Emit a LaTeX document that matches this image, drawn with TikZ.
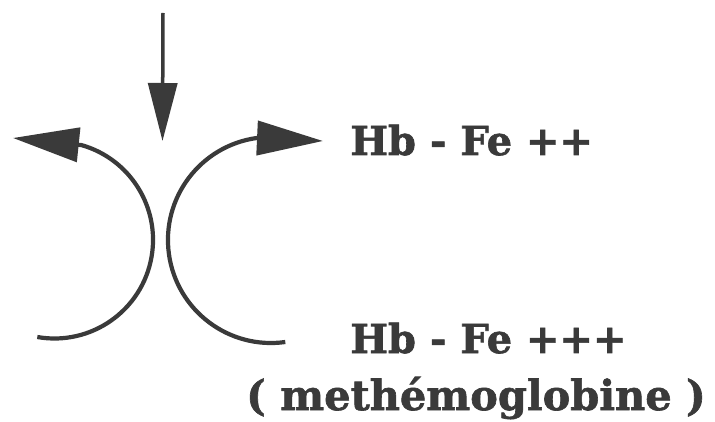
\documentclass[tikz,border=0pt]{standalone}
\usepackage{fontspec}
\setmainfont{DejaVu Serif}[BoldFeatures={FakeBold=1.5}]
\usetikzlibrary{arrows.meta}
\definecolor{inkc}{HTML}{3A3A3A}
\begin{document}
\begin{tikzpicture}[x=1pt,y=-1pt,
  ink/.style={draw=inkc, line width=4.2pt},
  lbl/.style={inner sep=0pt, anchor=base west, text=inkc, font=\fontsize{40}{40}\selectfont\bfseries},
  hh/.style={-{Triangle[length=66pt,width=34pt]}},
  vh/.style={-{Triangle[length=58pt,width=29pt]}}]
\useasboundingbox (0,0) rectangle (715,422);
% arrow from above
\coordinate (vtop) at (163,13);
\coordinate (vtip) at (162.5,141);
\draw[ink, line width=3.5pt, vh] (vtop) -- (vtip);
% left arc
\coordinate (lbot) at (37.3,337);
\coordinate (ltip) at (13,138);
\draw[ink, hh] (lbot) arc[start angle=100, end angle=-74, radius=98.6] -- (ltip);
% right arc
\coordinate (rbot) at (285.3,342);
\coordinate (rtip) at (323,141);
\draw[ink, hh] (rbot) arc[start angle=82, end angle=262, radius=103] -- (rtip);
% labels
\node[lbl] (fe2) at (350,155) {Hb - Fe ++};
\node[lbl] (fe3) at (350,353) {Hb - Fe +++};
\node[lbl, font=\fontsize{41.5}{42}\selectfont\bfseries] (met) at (246,410) {( methémoglobine )};
\end{tikzpicture}
\end{document}
